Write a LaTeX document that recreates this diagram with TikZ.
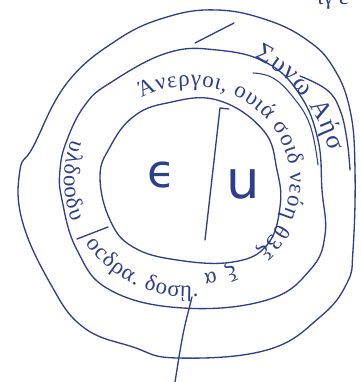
\documentclass[tikz,border=0pt]{standalone}
\usepackage{fontspec}
\setmainfont{Liberation Serif}
\newfontfamily\bigfont{DejaVu Sans}
\usetikzlibrary{decorations.text}
\definecolor{ink}{RGB}{45,62,138}
\begin{document}
\begin{tikzpicture}[x=0.02cm, y=0.02cm, every node/.style={text=ink},
  ring/.style={draw=ink,line width=0.75pt,line cap=round,line join=round},
  bigletter/.style={font=\bigfont\fontsize{26}{28}\selectfont},
  script/.style={decorate,decoration={text along path,text align={fit to path},
    text={|\fontsize{#1}{#1}\selectfont\color{ink}|}}}]
\useasboundingbox (0,0) rectangle (360,382);
\draw[ring] plot[smooth cycle,tension=0.7] coordinates {(217,372) (267,362) (307,342) (333,315) (350,272) (355,212) (353,132) (347,99) (320,65) (267,32) (177,24) (133,35) (83,55) (50,99) (22,162) (20,212) (33,235) (67,299) (117,342) (167,365)};
\draw[ring] plot[smooth cycle,tension=0.7] coordinates {(167,329) (217,332) (267,319) (300,287) (318,242) (322,192) (325,147) (310,112) (267,82) (183,74) (110,92) (77,132) (62,182) (60,212) (67,242) (85,277) (110,299)};
\draw[ring] plot[smooth cycle,tension=0.7] coordinates {(167,279) (217,282) (263,252) (277,212) (280,175) (267,137) (233,120) (177,122) (133,135) (110,162) (100,205) (110,235) (133,265)};
\coordinate (bartop) at (220,274);
\coordinate (barbot) at (205,142);
\coordinate (hook) at (229,273);
\draw[ring] (hook) -- (bartop) -- (barbot);
\node[bigletter] (eps) at (162,207) {ϵ};
\node[bigletter,font=\bigfont\fontsize{30}{32}\selectfont] (ups) at (243,198) {u};
\coordinate (sepin) at (108,155);
\coordinate (sepout) at (77,143);
\draw[ring] (sepin) -- (sepout);
\coordinate (tailtop) at (192,85);
\coordinate (tailend) at (175,0);
\draw[ring] (tailtop) .. controls (183,50) .. (tailend);
\coordinate (tickin) at (195,339);
\coordinate (tickout) at (234,359);
\draw[ring] (tickin) -- (tickout);
\draw[ring] plot[smooth,tension=0.7] coordinates {(300,306) (327,292) (340,272) (347,242) (350,212)};
\draw[ring,line width=0.6pt] plot[smooth,tension=0.7] coordinates {(253,309) (273,304) (293,285) (310,257) (318,217)};
\path[script=13,decoration={text={|\fontsize{13}{15}\selectfont\color{ink}|Άνεργοι, ουιά σοιδ νεόη θ3ξ}}]
  (190,202) ++(119:100 and 94) arc[start angle=119,end angle=-48,x radius=100,y radius=94];
\path[script=13,decoration={text={|\fontsize{13}{15}\selectfont\color{ink}|ξα}}]
  (190,202) ++(-64:100 and 94) arc[start angle=-64,end angle=-82,x radius=100,y radius=94];
\path[script=13,decoration={text={|\fontsize{13}{15}\selectfont\color{ink}|υλδοοδυ}}]
  (190,202) ++(160:126 and 117) arc[start angle=160,end angle=201,x radius=126,y radius=117];
\path[script=13,decoration={text={|\fontsize{13}{15}\selectfont\color{ink}|οcδρα. δοσῃ.}}]
  (190,202) ++(213:124 and 117) arc[start angle=213,end angle=274,x radius=124,y radius=117];
\path[script=15,decoration={text={|\fontsize{15}{17}\selectfont\color{ink}|Συνω Αήσ}}]
  (190,202) ++(63:142 and 137) arc[start angle=63,end angle=12,x radius=142,y radius=137];
\node[anchor=base,font=\fontsize{13}{15}\selectfont] (cut) at (333,377) {ιγ ε};
\end{tikzpicture}
\end{document}
